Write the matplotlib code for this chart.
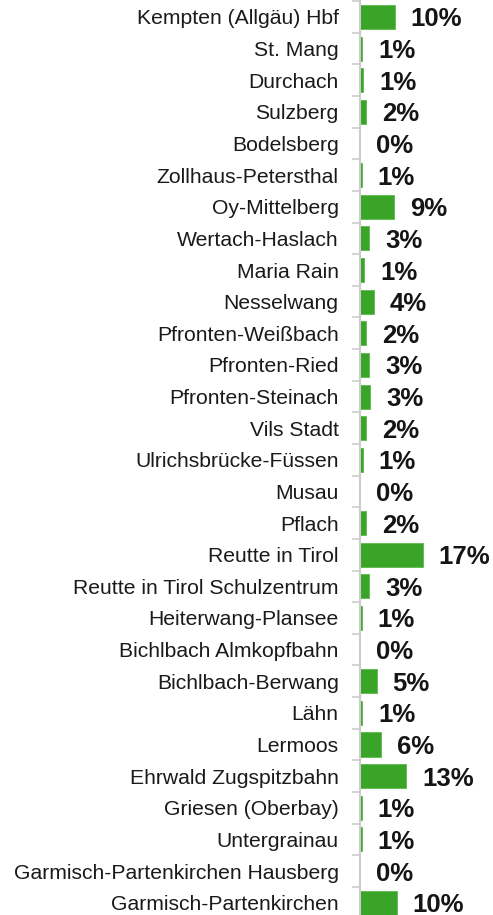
import matplotlib
matplotlib.use("Agg")
import matplotlib.pyplot as plt

plt.rcParams['font.family'] = ['Liberation Sans', 'DejaVu Sans']

stations = [
    "Kempten (Allgäu) Hbf", "St. Mang", "Durchach", "Sulzberg", "Bodelsberg",
    "Zollhaus-Petersthal", "Oy-Mittelberg", "Wertach-Haslach", "Maria Rain",
    "Nesselwang", "Pfronten-Weißbach", "Pfronten-Ried", "Pfronten-Steinach",
    "Vils Stadt", "Ulrichsbrücke-Füssen", "Musau", "Pflach", "Reutte in Tirol",
    "Reutte in Tirol Schulzentrum", "Heiterwang-Plansee", "Bichlbach Almkopfbahn",
    "Bichlbach-Berwang", "Lähn", "Lermoos", "Ehrwald Zugspitzbahn",
    "Griesen (Oberbay)", "Untergrainau", "Garmisch-Partenkirchen Hausberg",
    "Garmisch-Partenkirchen",
]
share = [
    9.6, 0.8, 1.0, 1.8, 0.15,
    0.55, 9.4, 2.6, 1.3,
    3.9, 1.9, 2.6, 2.9,
    1.9, 0.9, 0.15, 1.7, 17.3,
    2.6, 0.65, 0.15,
    4.7, 0.75, 5.8, 12.8,
    0.55, 0.65, 0.15,
    10.2,
]

W, H = 493, 915
fig = plt.figure(figsize=(W / 100, H / 100), dpi=100)

left_px = 359.5
px_per_pct = 3.65
row_px = 31.63
top_px = 17 - row_px / 2
bottom_px = top_px + row_px * len(stations)
ax = fig.add_axes([left_px / W, 1 - bottom_px / H, (W - left_px) / W, (bottom_px - top_px) / H])

y = list(range(len(stations)))
ax.barh(y, share, height=0.76, color='#3aa428', edgecolor='#5cb84a', linewidth=0.6)
ax.set_xlim(0, (W - left_px) / px_per_pct)
ax.set_ylim(len(stations) - 0.5, -0.5)

for yi, v in zip(y, share):
    ax.annotate(f"{v:.0f}%", (v, yi), xytext=(11.5, 0), textcoords='offset points',
                ha='left', va='center_baseline', fontsize=18.5, fontweight='bold',
                color='#151515')

for s in ['top', 'right', 'bottom']:
    ax.spines[s].set_visible(False)
ax.spines['left'].set_color('#cccccc')
ax.spines['left'].set_linewidth(1.5)
ax.set_xticks([])

ax.set_yticks([i - 0.5 for i in range(len(stations) + 1)])
ax.set_yticklabels([])
ax.tick_params(axis='y', which='major', length=6, width=1.2, color='#cccccc')
ax.set_yticks(y, minor=True)
ax.set_yticklabels(stations, minor=True, fontsize=15.2, color='#1a1a1a')
ax.tick_params(axis='y', which='minor', length=0, pad=15)

fig.savefig("out.png", dpi=100)
